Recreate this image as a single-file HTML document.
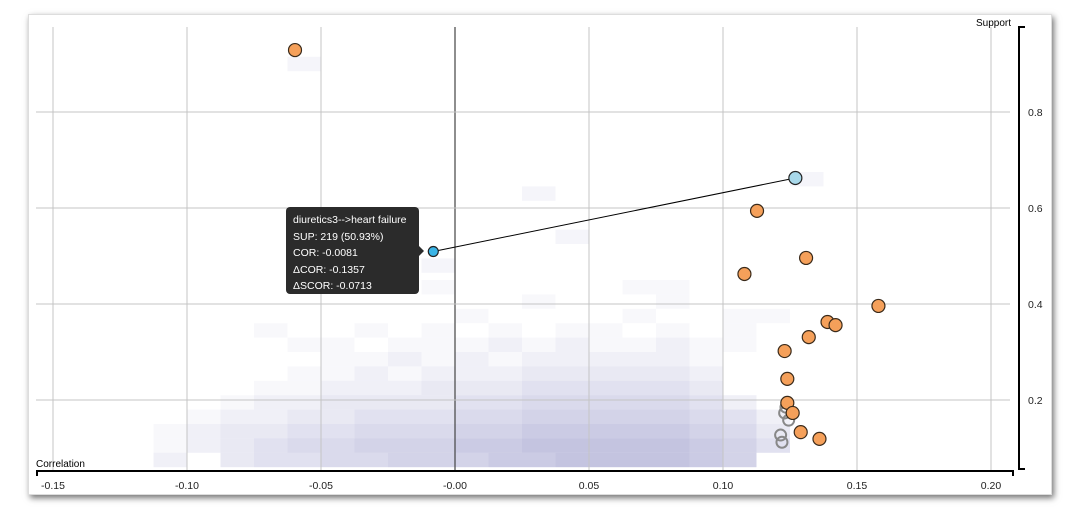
<!DOCTYPE html>
<html><head><meta charset="utf-8"><style>
body{margin:0;background:#fff;width:1068px;height:514px;overflow:hidden;font-family:"Liberation Sans",sans-serif}
#frame{position:absolute;left:28px;top:14px;width:1022px;height:479px;background:#fff;box-shadow:2px 3px 6px rgba(0,0,0,0.55);border:1px solid #ddd}
svg{position:absolute;left:0;top:0}
#tip{position:absolute;left:286px;top:207px;width:133px;height:87px;background:#2b2b2b;border-radius:4px;color:#fff;font-size:10.5px;line-height:16.5px;padding:0 0 0 7px;box-sizing:border-box;padding-top:5px}
#tip:after{content:"";position:absolute;right:-5px;top:39px;border:5px solid transparent;border-left-color:#2b2b2b;border-right:0}
</style></head><body>
<div id="frame"></div>
<svg id="chart" width="1068" height="514"></svg>
<div id="tip">diuretics3-->heart failure<br>SUP: 219 (50.93%)<br>COR: -0.0081<br>ΔCOR: -0.1357<br>ΔSCOR: -0.0713</div>
<script>
const xTicks=[-0.15,-0.10,-0.05,0.00,0.05,0.10,0.15,0.20];
const xTickLabels=["-0.15","-0.10","-0.05","-0.00","0.05","0.10","0.15","0.20"];
const yTicks=[0.2,0.4,0.6,0.8];
const yTickLabels=["0.2","0.4","0.6","0.8"];
const heatX0=-0.1125, heatDX=0.0125, heatY0=0.06, heatDY=0.03;
const heatRows=[
"20344556667788887600",
"12345566677888887640",
"12334455566777776530",
"01223344455666665420",
"00122333344555554200",
"00011222333444443000",
"00001121222333332000",
"00000112121222221000",
"00001101112121121100",
"00010010101011010100",
"00000000010000100110",
"00000000000100010000",
"00000000100000110000"];
const extraCellX=[-0.0625,0.025,0.0375,0.125,-0.0125];
const extraCellY=[0.9,0.63,0.54,0.66,0.48];
const orangeX=[-0.0597,0.1127,0.131,0.108,0.158,0.139,0.142,0.132,0.123,0.124,0.124,0.126,0.129,0.136];
const orangeY=[0.929,0.594,0.496,0.4625,0.396,0.3625,0.356,0.331,0.302,0.244,0.194,0.173,0.133,0.119];
const greyX=[0.1235,0.123,0.1245,0.1215,0.122];
const greyY=[0.185,0.173,0.158,0.127,0.112];
const blueX=[-0.0081,0.127];
const blueY=[0.5093,0.6625];
const X=v=>455+v*2680, Y=v=>496-v*480;
const svg=document.getElementById('chart');
const NS='http://www.w3.org/2000/svg';
function mk(t,a,p){const e=document.createElementNS(NS,t);for(const k in a)e.setAttribute(k,a[k]);(p||svg).appendChild(e);return e;}
heatRows.forEach((row,r)=>{[...row].forEach((c,i)=>{const v=+c;if(!v)return;
 const e=mk('rect',{x:X(heatX0+i*heatDX),y:Y(heatY0+(r+1)*heatDY),width:heatDX*2680,height:heatDY*480,fill:'rgb(120,120,185)','fill-opacity':v*0.055});
 
 });});
extraCellX.forEach((x,i)=>{const e=mk('rect',{x:X(x),y:Y(extraCellY[i]+heatDY/2),width:heatDX*2680,height:heatDY*480,fill:'rgb(120,120,185)','fill-opacity':0.07});
 
 });
xTicks.forEach((t,i)=>{const g=mk('line',{x1:X(t),x2:X(t),y1:27,y2:470,stroke:t===0?'#444':'#c4c4c4','stroke-width':t===0?1.2:1});
 
 
 const l=mk('text',{x:X(t),y:489,'font-size':10.5,'text-anchor':'middle',fill:'#222'});l.textContent=xTickLabels[i];
 
 });
yTicks.forEach((t,i)=>{const g=mk('line',{x1:36,x2:1010,y1:Y(t),y2:Y(t),stroke:'#c4c4c4'});
 
 
 const l=mk('text',{x:1028,y:Y(t)+4,'font-size':10.5,fill:'#222'});l.textContent=yTickLabels[i];
 
 });
const xa=mk('path',{d:'M37,476 V471 H1013 V476',fill:'none',stroke:'#000','stroke-width':2});


const ya=mk('path',{d:'M1025,27 H1019 V469 H1025',fill:'none',stroke:'#000','stroke-width':2});


const xt=mk('text',{x:36,y:467,'font-size':10,fill:'#000'});xt.textContent='Correlation';


const yt=mk('text',{x:1011,y:26,'font-size':10,fill:'#000','text-anchor':'end'});yt.textContent='Support';


greyX.forEach((x,i)=>{const c=mk('circle',{cx:X(x),cy:Y(greyY[i]),r:5.5,fill:'none',stroke:'#888','stroke-width':2});
 
 });
orangeX.forEach((x,i)=>{const c=mk('circle',{cx:X(x),cy:Y(orangeY[i]),r:6.5,fill:'#f5a05a',stroke:'#3a2a1a','stroke-width':1.2});
 
 });
const ln=mk('line',{x1:X(blueX[0]),y1:Y(blueY[0]),x2:X(blueX[1]),y2:Y(blueY[1]),stroke:'#000','stroke-width':1});


blueX.forEach((x,i)=>{const c=mk('circle',{cx:X(x),cy:Y(blueY[i]),r:i===0?5:6.5,fill:i===0?'#3ab4e6':'#a8d8ea',stroke:'#222','stroke-width':1.2});
 
 });
</script>
</body></html>
